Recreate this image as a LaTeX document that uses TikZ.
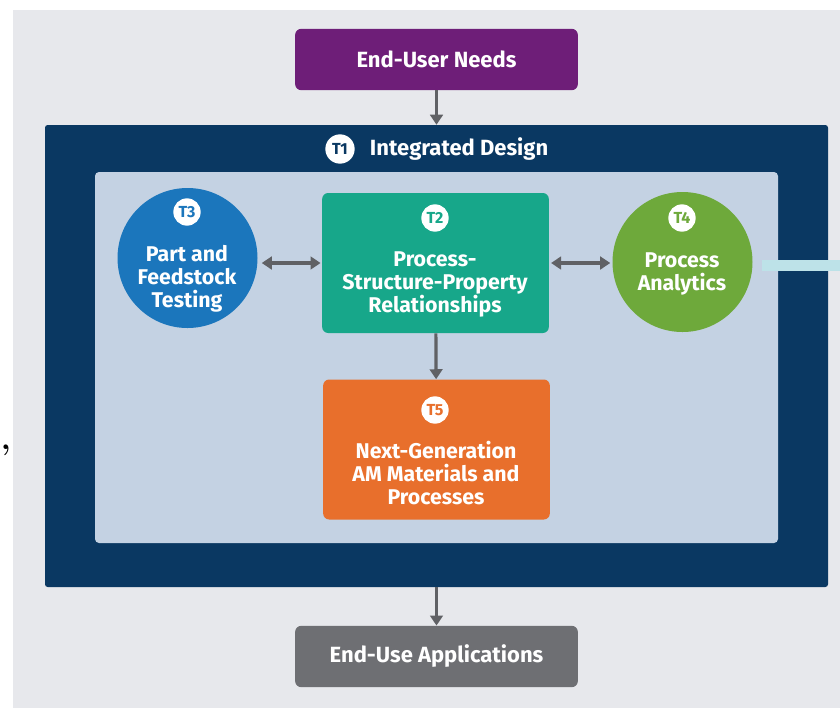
\documentclass[tikz,border=0pt]{standalone}
\usepackage{fontspec}
\setsansfont{Fira Sans}
\usetikzlibrary{arrows.meta, positioning}
\definecolor{pagebg}{HTML}{E7E8EC}
\definecolor{needsbg}{HTML}{6E1E78}
\definecolor{designbg}{HTML}{0A3862}
\definecolor{panelbg}{HTML}{C4D2E3}
\definecolor{testbg}{HTML}{1B76BC}
\definecolor{pspbg}{HTML}{17A78A}
\definecolor{analyticbg}{HTML}{6EA93B}
\definecolor{nextgenbg}{HTML}{E86F2C}
\definecolor{appsbg}{HTML}{6E6F73}
\definecolor{arrowgray}{HTML}{606165}
\definecolor{linkline}{HTML}{BDE2E8}
\tikzset{
  box/.style={
    rounded corners=4.5pt,
    inner sep=0pt,
    align=center,
    text=white,
    font=\sffamily\bfseries\fontsize{16.5}{19}\selectfont
  },
  endbox/.style={
    box,
    minimum width=212pt,
    minimum height=46pt
  },
  thrustbox/.style={
    box,
    minimum width=170pt,
    minimum height=105pt
  },
  thrustcirc/.style={
    circle,
    inner sep=0pt,
    minimum size=105pt
  },
  thrusttext/.style={
    inner sep=0pt,
    align=center,
    text=white,
    font=\sffamily\bfseries\fontsize{16}{17.25}\selectfont
  },
  badge/.style={
    circle,
    fill=white,
    inner sep=0pt,
    minimum size=20.5pt,
    font=\sffamily\bfseries\fontsize{12}{12}\selectfont
  },
  arrow/.style={
    -{Triangle[length=7.5pt,width=9.5pt]},
    line width=2.4pt,
    draw=arrowgray
  },
  dblarrow/.style={
    {Triangle[length=7.5pt,width=9.5pt]}-{Triangle[length=7.5pt,width=9.5pt]},
    line width=2.4pt,
    draw=arrowgray
  },
  link/.style={
    line width=8pt,
    draw=linkline
  }
}

\begin{document}
\begin{tikzpicture}[x=0.75pt, y=-0.75pt]

\fill[white] (0,0) rectangle (840,708);
\useasboundingbox (0,0) rectangle (840,708);
\fill[pagebg] (13,10) rectangle (840,708);

\node[endbox, fill=needsbg] (needs) at (436.5,59.5) {End-User Needs};

% T1 frame with the light panel inside
\node[fill=designbg, rounded corners=2pt, inner sep=0pt,
      minimum width=587.25pt, minimum height=346.5pt] (design) at (436.5,356) {};
\node[fill=panelbg, rounded corners=3pt, inner sep=0pt,
      minimum width=512.25pt, minimum height=278.25pt] (panel) at (436.5,357.5) {};
\node[badge, text=designbg, minimum size=22pt] (t1) at (340,149) {T1};
\node[right=11pt of t1, inner sep=0pt, text=white,
      font=\sffamily\bfseries\fontsize{16.5}{18}\selectfont] (designtitle) {Integrated Design};

% T3
\node[thrustcirc, fill=testbg] (testing) at (187.5,258) {};
\node[badge, text=testbg] (t3) at (187,212) {T3};
\node[thrusttext] (testingtext) at (187,279) {Part and\\Feedstock\\Testing};

% T2
\node[thrustbox, fill=pspbg] (psp) at (435.5,263) {};
\node[badge, text=pspbg] (t2) at (435,218) {T2};
\node[thrusttext] (psptext) at (435,284) {Process-\\Structure-Property\\Relationships};

% T4
\node[thrustcirc, fill=analyticbg] (analytics) at (682.5,262) {};
\node[badge, text=analyticbg] (t4) at (682,218) {T4};
\node[thrusttext] (analyticstext) at (682,273.5) {Process\\Analytics};

% T5
\node[thrustbox, fill=nextgenbg] (nextgen) at (436.5,449.5) {};
\node[badge, text=nextgenbg] (t5) at (435,410) {T5};
\node[thrusttext] (nextgentext) at (436,473) {Next-Generation\\AM Materials and\\Processes};

\node[endbox, fill=appsbg] (apps) at (436.5,656.5) {End-Use Applications};

\node[inner sep=0pt, font=\bfseries\fontsize{24}{24}\selectfont] (comma) at (6,450) {,};

\coordinate (offpage) at (840,265.5);

\draw[arrow] (needs) -- (design);
\draw[dblarrow, shorten <=3pt, shorten >=1pt] (testing.east |- psp.west) -- (psp.west);
\draw[dblarrow, shorten <=1.5pt, shorten >=1.5pt] (psp.east) -- (analytics.west |- psp.east);
\draw[arrow] (psp) -- (nextgen);
\draw[arrow] (design) -- (apps);
\draw[link] ([xshift=7pt]analytics.east |- offpage) -- (offpage);

\end{tikzpicture}
\end{document}
